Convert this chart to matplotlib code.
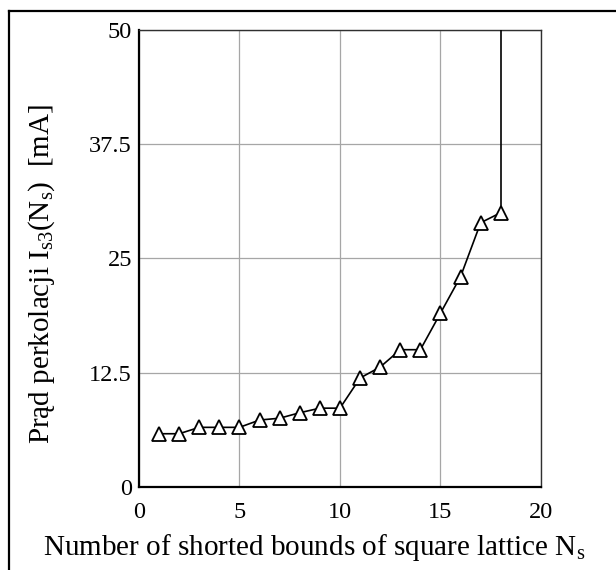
import numpy as np
import matplotlib
matplotlib.use('Agg')
import matplotlib.pyplot as plt
from matplotlib.lines import Line2D

plt.rcParams['font.family'] = ['Liberation Serif', 'DejaVu Serif']
plt.rcParams['mathtext.fontset'] = 'custom'
plt.rcParams['mathtext.rm'] = 'Liberation Serif'
plt.rcParams['mathtext.it'] = 'Liberation Serif:italic'

# number of shorted bonds and percolation current [mA]
n_shorted = [1, 2, 3, 4, 5, 6, 7, 8, 9, 10, 11, 12, 13, 14, 15, 16, 17, 18]
current_ma = [5.8, 5.8, 6.5, 6.5, 6.5, 7.3, 7.5, 8.1, 8.6, 8.6,
              11.9, 13.1, 15.0, 15.0, 19.0, 23.0, 28.9, 30.0]
# after the last point the current diverges (goes off the scale)
n_tail = [18, 18]
current_tail = [30.0, 1000.0]

x_ticks = [0, 5, 10, 15, 20]
y_ticks = [0, 12.5, 25, 37.5, 50]
y_ticklabels = ['0', '12.5', '25', '37.5', '50']

fig = plt.figure(figsize=(6.16, 5.70), dpi=100)
ax = fig.add_axes([0.2256, 0.1461, 0.6526, 0.8013])

ax.plot(n_tail, current_tail, color='black', lw=1.2, zorder=3)
ax.plot(n_shorted, current_ma, color='black', lw=1.2, marker='^', markersize=9.5,
        markerfacecolor='white', markeredgecolor='black', markeredgewidth=1.3, zorder=4)

ax.set_xlim(0, 20)
ax.set_ylim(0, 50)
ax.set_xticks(x_ticks)
ax.set_yticks(y_ticks)
ax.set_yticklabels(y_ticklabels)
ax.tick_params(length=0, labelsize=17.5)
ax.tick_params(axis='x', pad=11)
ax.tick_params(axis='y', pad=5)
ax.grid(True, color='#a6a6a6', lw=0.9)
ax.set_axisbelow(True)

for s in ['left', 'bottom']:
    ax.spines[s].set_linewidth(1.6)
    ax.spines[s].set_color('black')
for s in ['top', 'right']:
    ax.spines[s].set_linewidth(1.0)
    ax.spines[s].set_color('#303030')

fig.text(0.068, 0.519, 'Prąd perkolacji $\\mathrm{I_{s3}(N_s)}$  [mA]', rotation=90,
         ha='center', va='center', fontsize=21)
fig.text(0.51, 0.04, 'Number of shorted bounds of square lattice $\\mathrm{N_s}$',
         ha='center', va='center', fontsize=21)

# frame of the picture (top and left edges)
fig.add_artist(Line2D([0.0138, 1.0], [0.9807, 0.9807], color='black', lw=1.6,
                      transform=fig.transFigure))
fig.add_artist(Line2D([0.0138, 0.0138], [0.0, 0.9807], color='black', lw=1.6,
                      transform=fig.transFigure))

fig.savefig('out.png', dpi=100)
